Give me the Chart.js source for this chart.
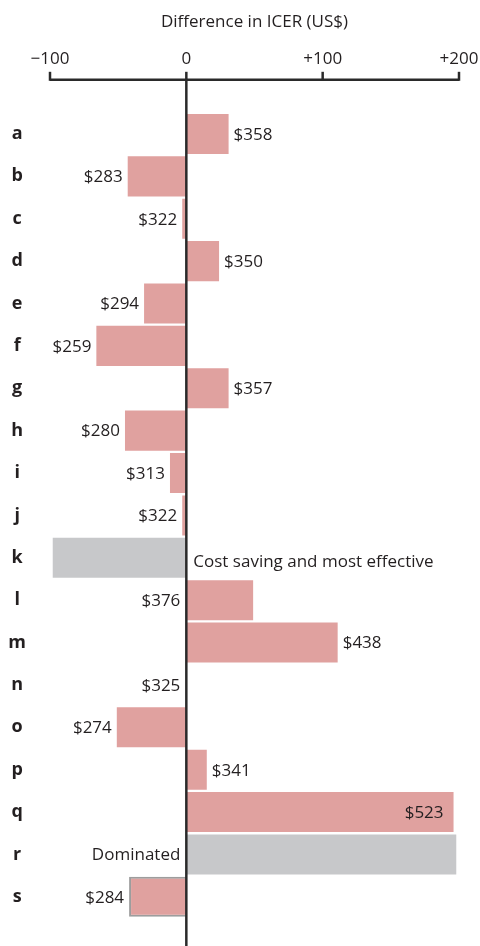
<!DOCTYPE html>
<html>
<head>
<meta charset="utf-8">
<script src="https://cdn.jsdelivr.net/npm/chart.js@4.4.1/dist/chart.umd.min.js"></script>
<style>
  html, body { margin: 0; padding: 0; background: #fff; }
  #wrap { width: 480px; height: 946px; position: relative; }
</style>
</head>
<body>
<div id="wrap"><canvas id="icerChart"></canvas></div>
<script>
// data
var categories = ['a','b','c','d','e','f','g','h','i','j','k','l','m','n','o','p','q','r','s'];
var icerDiff = [31, -43, -3, 24, -31, -66, 31, -45, -12, -3, -98, 49, 111, 0, -51, 15, 196, 198, -42];
var barLabels = ['$358','$283','$322','$350','$294','$259','$357','$280','$313','$322',
    'Cost saving and most effective','$376','$438','$325','$274','$341','$523','Dominated','$284'];
var outcome = ['icer','icer','icer','icer','icer','icer','icer','icer','icer','icer',
    'saving','icer','icer','icer','icer','icer','icer','dominated','icer'];
var xTicks = [-100, 0, 100, 200];

var FONT = "'Open Sans', sans-serif";
var INK = '#231f20';
var PINK = '#e0a19f';
var GREY = '#c7c8ca';

// where each text label goes relative to its bar
var labelSide = ['end','end','end','end','end','end','end','end','end','end',
    'zeroRight','zeroLeft','end','zeroLeft','end','end','inside','zeroLeft','end'];

var barColors = outcome.map(function (o) { return o === 'icer' ? PINK : GREY; });
var borderW = categories.map(function (c) { return c === 's' ? 2 : 0; });

var labelPlugin = {
    id: 'icerLabels',
    afterDatasetsDraw: function (chart) {
        var ctx = chart.ctx;
        var xs = chart.scales.x;
        var area = chart.chartArea;
        var meta = chart.getDatasetMeta(0);
        var axisY = area.top - 33;

        ctx.save();
        // top bracket axis
        ctx.strokeStyle = '#2a2a2a';
        ctx.lineWidth = 2.5;
        ctx.beginPath();
        ctx.moveTo(xs.getPixelForValue(xTicks[0]), axisY);
        ctx.lineTo(xs.getPixelForValue(xTicks[xTicks.length - 1]), axisY);
        ctx.stroke();
        xTicks.forEach(function (v) {
            var px = xs.getPixelForValue(v);
            ctx.beginPath();
            ctx.moveTo(px, axisY + 1);
            ctx.lineTo(px, axisY - 8);
            ctx.stroke();
        });
        // zero line
        var zx = xs.getPixelForValue(0);
        ctx.beginPath();
        ctx.moveTo(zx, axisY);
        ctx.lineTo(zx, chart.height);
        ctx.stroke();

        // bar labels
        ctx.font = '17px ' + FONT;
        ctx.fillStyle = INK;
        ctx.textBaseline = 'middle';
        meta.data.forEach(function (bar, i) {
            var side = labelSide[i];
            var y = bar.y + 1;
            var x;
            if (side === 'end') {
                if (icerDiff[i] >= 0) { ctx.textAlign = 'left'; x = bar.x + 5; }
                else { ctx.textAlign = 'right'; x = bar.x - 5; }
            } else if (side === 'zeroLeft') {
                ctx.textAlign = 'right'; x = zx - 6;
            } else if (side === 'zeroRight') {
                ctx.textAlign = 'left'; x = zx + 7; y += 3;
            } else {
                ctx.textAlign = 'right'; x = bar.x - 10;
            }
            ctx.fillText(barLabels[i], x, y);
        });
        ctx.restore();
    }
};

var chart = new Chart(document.getElementById('icerChart').getContext('2d'), {
    type: 'bar',
    data: {
        labels: categories,
        datasets: [{
            data: icerDiff,
            backgroundColor: barColors,
            borderColor: '#9d9d9d',
            borderWidth: borderW,
            categoryPercentage: 1,
            barPercentage: 0.945
        }]
    },
    options: {
        indexAxis: 'y',
        responsive: true,
        maintainAspectRatio: false,
        animation: false,
        layout: { padding: { top: 0, right: 21, bottom: 28, left: 0 } },
        plugins: { legend: { display: false }, tooltip: { enabled: false } },
        scales: {
            x: {
                position: 'top',
                min: -100,
                max: 200,
                afterBuildTicks: function (axis) {
                    axis.ticks = xTicks.map(function (v) { return { value: v }; });
                },
                // hidden tick marks only reserve the gap under the labels
                grid: { display: false, drawTicks: true, tickLength: 43 },
                border: { display: false },
                ticks: {
                    padding: 0,
                    color: INK,
                    font: { family: FONT, size: 17 },
                    callback: function (v) {
                        if (v > 0) return '+' + v;
                        if (v < 0) return '\u2212' + Math.abs(v);
                        return '0';
                    }
                },
                title: {
                    display: true,
                    text: 'Difference in ICER (US$)',
                    color: INK,
                    font: { family: FONT, size: 17 },
                    padding: { top: 12, bottom: 17 }
                }
            },
            y: {
                offset: true,
                grid: { display: false, drawTicks: true, tickLength: 24 },
                border: { display: false },
                afterFit: function (axis) { axis.width = 50; },
                ticks: {
                    crossAlign: 'center',
                    padding: 0,
                    color: INK,
                    font: { family: FONT, size: 18, weight: 'bold' }
                }
            }
        }
    },
    plugins: [labelPlugin]
});
</script>
</body>
</html>
